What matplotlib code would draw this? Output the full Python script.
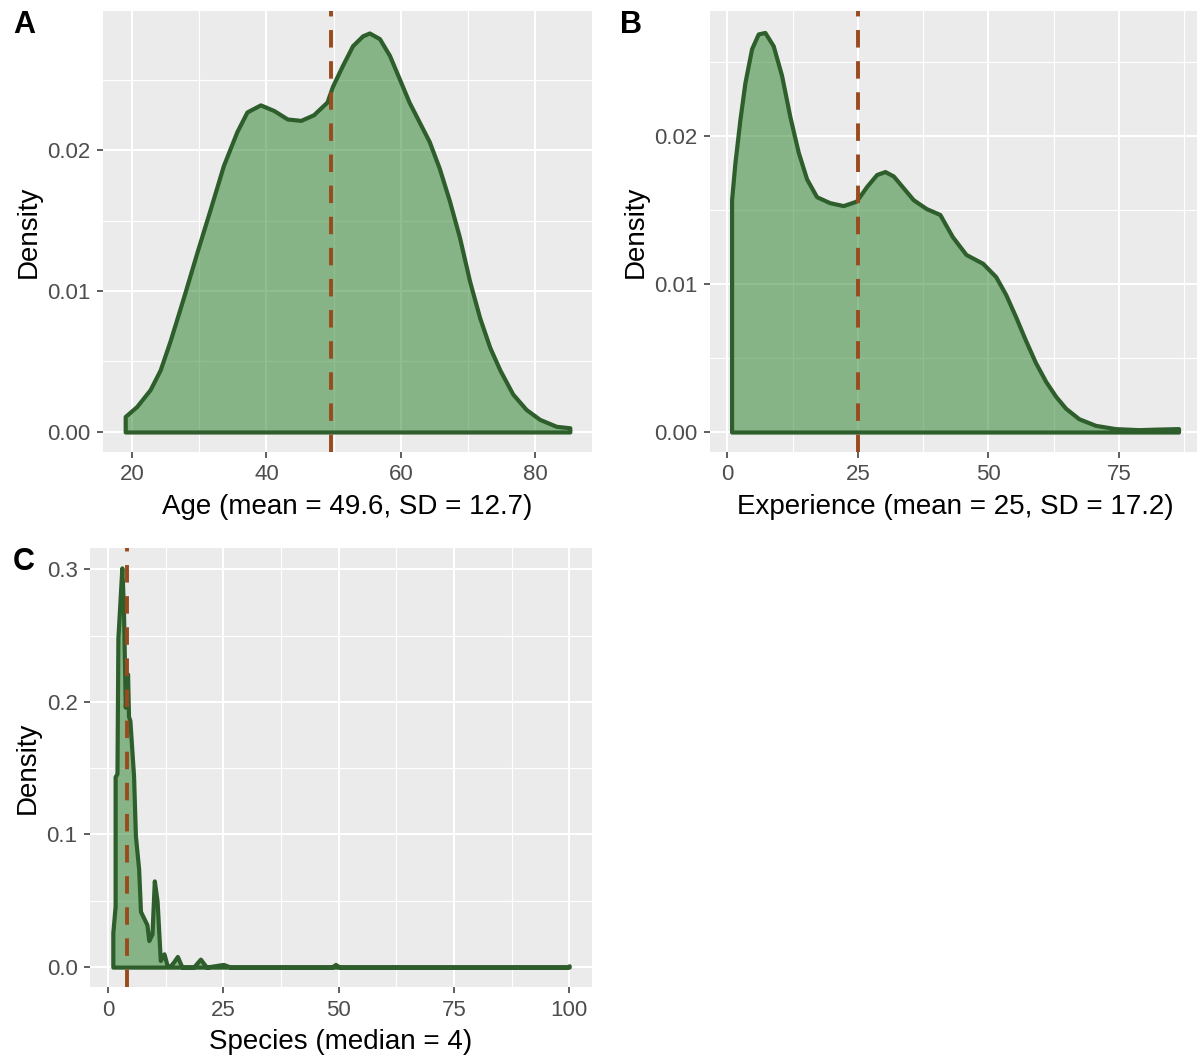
import matplotlib.pyplot as plt
from matplotlib.colors import to_rgba

plt.rcParams["font.family"] = ["Liberation Sans", "DejaVu Sans"]

# Panel A: age density
age_x = [19.0, 19.0, 20.7, 22.7, 24.2, 25.7, 27.7, 29.7, 31.7, 33.6, 35.6, 37.1, 39.1,
         41.1, 43.1, 45.1, 47.0, 49.0, 49.8, 51.3, 52.8, 54.3, 55.3, 56.8, 58.3, 59.8,
         61.2, 62.7, 64.2, 65.7, 67.2, 68.7, 70.2, 71.7, 73.2, 74.7, 76.6, 78.6, 80.6,
         83.1, 85.1]
age_y = [0, 0.0011, 0.0018, 0.0030, 0.0044, 0.0065, 0.0096, 0.0128, 0.0159, 0.0189,
         0.0213, 0.0227, 0.0232, 0.0228, 0.0222, 0.0221, 0.0225, 0.0234, 0.0245, 0.0260,
         0.0274, 0.0281, 0.0283, 0.0279, 0.0267, 0.0250, 0.0234, 0.0220, 0.0206, 0.0187,
         0.0164, 0.0138, 0.0107, 0.0081, 0.0060, 0.0044, 0.0027, 0.0016, 0.0009, 0.0004,
         0.0003]
age_mean = 49.6

# Panel B: experience density
exp_x = [0.83, 0.83, 1.47, 2.42, 3.38, 4.66, 5.93, 7.21, 8.8, 10.4, 12.0, 13.6, 15.2,
         17.1, 19.6, 22.2, 24.7, 26.7, 28.6, 30.2, 31.8, 33.7, 35.6, 38.1, 40.7, 43.1,
         45.7, 48.9, 51.4, 53.3, 55.2, 57.1, 59.0, 61.0, 62.9, 64.8, 67.3, 70.5, 74.3,
         78.8, 82.6, 86.4]
exp_y = [0, 0.0157, 0.0182, 0.0211, 0.0236, 0.0259, 0.0269, 0.0270, 0.0261, 0.0241,
         0.0213, 0.0189, 0.0171, 0.0159, 0.0155, 0.0153, 0.0156, 0.0166, 0.0174, 0.0176,
         0.0173, 0.0165, 0.0157, 0.0151, 0.0147, 0.0132, 0.0120, 0.0114, 0.0105, 0.0093,
         0.0078, 0.0062, 0.0047, 0.0034, 0.0024, 0.0016, 0.0009, 0.00045, 0.00023,
         0.00016, 0.0002, 0.00023]
exp_mean = 25

# Panel C: species density
sp_x = [1, 1, 1.5, 1.5, 1.9, 2.1, 2.96, 3.3, 3.7, 4.2, 4.4, 4.7, 5.1, 5.5, 5.9, 6.6, 7.0,
        7.7, 8.4, 8.8, 9.5, 10.0, 10.6, 11.3, 12.1, 12.8, 13.5, 14.2, 15.0, 16.0, 18.5,
        20.0, 21.3, 24.0, 25.0, 26.5, 48.5, 49.3, 50.2, 99.5, 100]
sp_y = [0, 0.026, 0.046, 0.1435, 0.146, 0.248, 0.301, 0.271, 0.196, 0.221, 0.189, 0.186,
        0.165, 0.144, 0.099, 0.074, 0.042, 0.037, 0.032, 0.020, 0.025, 0.065, 0.050, 0.005,
        0.010, 0.001, 0.001, 0.004, 0.008, 0.0, 0.0, 0.006, 0.0, 0.0015, 0.002, 0.0, 0.0,
        0.002, 0.0, 0.0, 0.001]
sp_median = 4

W, H = 1197, 1056
fig = plt.figure(figsize=(W / 100, H / 100), dpi=100)

fill = to_rgba("#237f24", 0.5)
edge = "#2e5e2b"
vline = "#9a4a1f"


def px_axes(left, right, top, bottom):
    return fig.add_axes([left / W, 1 - bottom / H, (right - left) / W, (bottom - top) / H])


def style(ax, xlim, ylim, xmaj, xmin, ymaj, ymin, ylabels):
    ax.set_facecolor("#ebebeb")
    ax.set_xlim(xlim)
    ax.set_ylim(ylim)
    ax.set_xticks(xmaj)
    ax.set_xticks(xmin, minor=True)
    ax.set_yticks(ymaj)
    ax.set_yticklabels(ylabels)
    ax.set_yticks(ymin, minor=True)
    ax.grid(which="major", color="white", lw=1.5)
    ax.grid(which="minor", color="white", lw=0.8)
    ax.set_axisbelow(True)
    for s in ax.spines.values():
        s.set_visible(False)
    ax.tick_params(which="major", length=4, width=1.1, color="#333333",
                   labelcolor="#4d4d4d", labelsize=16, pad=5)
    ax.tick_params(which="minor", length=0)
    ax.set_ylabel("Density", fontsize=20, color="black", labelpad=4)


def density(ax, x, y, ref):
    ax.fill_between(x, 0, y, facecolor=fill, edgecolor=edge, lw=3, joinstyle="round")
    ax.axvline(ref, color=vline, lw=2.8, ls=(0, (4.5, 3.5)))


axA = px_axes(103, 592, 11, 452)
density(axA, age_x, age_y, age_mean)
style(axA, (15.7, 88.4), (-0.00142, 0.02986), [20, 40, 60, 80], [30, 50, 70],
      [0, 0.01, 0.02], [0.005, 0.015, 0.025], ["0.00", "0.01", "0.02"])
axA.set_xlabel("Age (mean = 49.6, SD = 12.7)", fontsize=20, labelpad=6)

axB = px_axes(710, 1201, 11, 452)
density(axB, exp_x, exp_y, exp_mean)
style(axB, (-3.3, 90.7), (-0.00135, 0.02845), [0, 25, 50, 75], [12.5, 37.5, 62.5, 87.5],
      [0, 0.01, 0.02], [0.005, 0.015, 0.025], ["0.00", "0.01", "0.02"])
axB.set_xlabel("Experience (mean = 25, SD = 17.2)", fontsize=20, labelpad=6)

axC = px_axes(90, 592, 548, 987)
density(axC, sp_x, sp_y, sp_median)
style(axC, (-3.95, 104.95), (-0.015, 0.316), [0, 25, 50, 75, 100], [12.5, 37.5, 62.5, 87.5],
      [0, 0.1, 0.2, 0.3], [0.05, 0.15, 0.25], ["0.0", "0.1", "0.2", "0.3"])
axC.set_xlabel("Species (median = 4)", fontsize=20, labelpad=6)

fig.text(24 / W, 1 - 25 / H, "A", fontsize=22, fontweight="bold", ha="center", va="center")
fig.text(631 / W, 1 - 25 / H, "B", fontsize=22, fontweight="bold", ha="center", va="center")
fig.text(24 / W, 1 - 562 / H, "C", fontsize=22, fontweight="bold", ha="center", va="center")

fig.savefig("out.png", dpi=100)
